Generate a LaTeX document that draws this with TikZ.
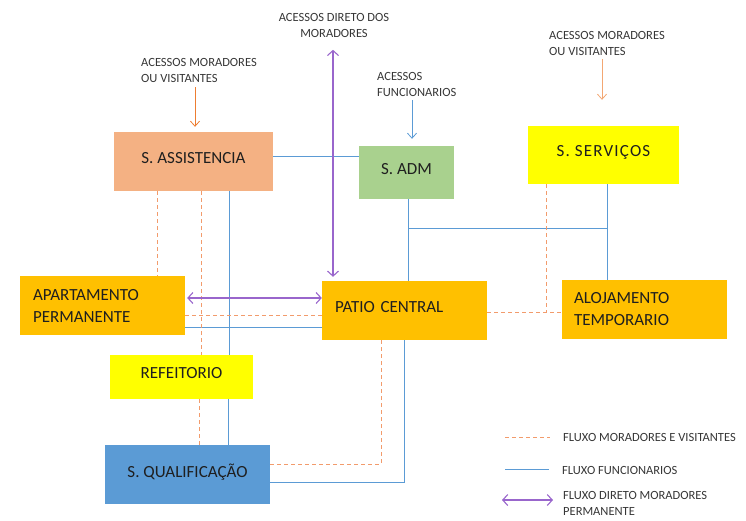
\documentclass[tikz,border=0pt]{standalone}
\usepackage{fontspec}
\setmainfont{Carlito}
\newfontfamily\widefont[LetterSpace=7]{Carlito}
\usetikzlibrary{arrows.meta}

\definecolor{salmonfill}{HTML}{F4B183}
\definecolor{greenfill}{HTML}{A9D18E}
\definecolor{yellowfill}{HTML}{FFFF00}
\definecolor{goldfill}{HTML}{FFC000}
\definecolor{bluefill}{HTML}{5B9BD5}
\definecolor{blueline}{HTML}{5B9BD5}
\definecolor{orangeline}{HTML}{F29B6C}
\definecolor{orangearrow}{HTML}{ED7D31}
\definecolor{purpleline}{HTML}{9966CC}
\definecolor{boxtext}{HTML}{1F1F1F}
\definecolor{lbltext}{HTML}{363636}

\tikzset{
  box/.style={inner sep=0pt, minimum height=59pt, text=boxtext,
    font=\fontsize{17}{22}\selectfont},
  onebox/.style={box, text depth=8pt},
  leftbox/.style={box, text width=139pt, inner xsep=13pt, align=left},
  lbl/.style={inner sep=0pt, text=lbltext, font=\fontsize{12.5}{16}\selectfont, align=left},
  visit/.style={draw=orangeline, line width=0.8pt, dash pattern=on 4pt off 3pt},
  staff/.style={draw=blueline, line width=0.8pt},
  direct/.style={draw=purpleline, line width=1.1pt,
    {Straight Barb[length=5pt,width=11pt]}-{Straight Barb[length=5pt,width=11pt]}},
  access/.style={line width=0.8pt, -{Straight Barb[length=5pt,width=9pt]}},
}

\begin{document}
\begin{tikzpicture}[x=1pt, y=-1pt]
    \useasboundingbox (0,0) rectangle (746,520);

    % sectors
    \node [onebox, fill=salmonfill, minimum width=159pt] (assist) at (193.5,161.5) {S. ASSISTENCIA};
    \node [onebox, fill=greenfill, minimum width=95pt, minimum height=53pt] (adm) at (406.5,172.5) {S. ADM};
    \node [onebox, fill=yellowfill, minimum width=151pt, minimum height=58pt] (serv) at (603.5,155) {\widefont S. SERVIÇOS};
    \node [leftbox, fill=goldfill] (apart) at (102.5,305.5) {APARTAMENTO\\PERMANENTE};
    \node [leftbox, fill=goldfill, text depth=8pt] (patio) at (404.5,310.5) {PATIO CENTRAL};
    \node [leftbox, fill=goldfill, inner xsep=12pt, text width=141pt] (aloj) at (644.5,309.5) {ALOJAMENTO\\TEMPORARIO};
    \node [onebox, fill=yellowfill, minimum width=143pt, minimum height=44pt] (refeit) at (181.5,377) {REFEITORIO};
    \node [onebox, fill=bluefill, minimum width=165pt] (qualif) at (187.5,474.5) {S. QUALIFICAÇÃO};

    % accesses
    \node [lbl, anchor=west] (accvisA) at (141,70) {ACESSOS MORADORES\\OU VISITANTES};
    \node [lbl, anchor=west] (accvisB) at (549,43) {ACESSOS MORADORES\\OU VISITANTES};
    \node [lbl, anchor=west] (accfunc) at (377,84) {ACESSOS\\FUNCIONARIOS};
    \node [lbl, align=center] (accdir) at (334,25.5) {ACESSOS DIRETO DOS\\MORADORES};
    \draw [access, draw=orangearrow, shorten <=5pt, shorten >=5pt] (accvisA.south -| 195,0) -- (assist.north -| 195,0);
    \draw [access, draw=salmonfill!80!orangearrow, shorten <=4pt, shorten >=26pt] (accvisB.south -| 602,0) -- (serv.north -| 602,0);
    \draw [access, draw=blueline, shorten <=4pt, shorten >=7pt] (accfunc.south -| 412,0) -- (adm.north -| 412,0);

    % fluxo funcionarios
    \coordinate (admjoin) at (408,228);
    \coordinate (servjoin) at (607,228);
    \draw [staff] (assist.east |- 0,156) -- (adm.west |- 0,156);
    \draw [staff] (adm.south -| admjoin) -- (patio.north -| admjoin);
    \draw [staff] (serv.south -| servjoin) -- (aloj.north -| servjoin);
    \draw [staff] (admjoin) -- (servjoin);
    \draw [staff] (assist.south -| 229,0) -- (refeit.north -| 229,0);
    \draw [staff] (refeit.south -| 228,0) -- (qualif.north -| 228,0);
    \draw [staff] (apart.east |- 0,327) -- (patio.west |- 0,327);
    \draw [staff] (patio.south -| 404,0) |- (qualif.east |- 0,482);

    % fluxo moradores e visitantes
    \coordinate (servdrop) at (546,312);
    \draw [visit] (assist.south -| 157,0) -- (apart.north -| 157,0);
    \draw [visit] (assist.south -| 201,0) -- (refeit.north -| 201,0);
    \draw [visit] (refeit.south -| 199,0) -- (qualif.north -| 199,0);
    \draw [visit] (apart.east |- 0,315) -- (patio.west |- 0,315);
    \draw [visit] (patio.east |- servdrop) -- (aloj.west |- servdrop);
    \draw [visit] (serv.south -| servdrop) -- (servdrop);
    \draw [visit] (patio.south -| 381,0) |- (qualif.east |- 0,464);

    % fluxo direto
    \draw [direct, shorten <=12pt, shorten >=4pt] (accdir.south -| 333,0) -- (patio.north -| 333,0);
    \draw [direct, shorten <=2pt] (apart.east |- 0,298) -- (patio.west |- 0,298);

    % legenda
    \coordinate (legvA) at (505,437);
    \coordinate (legvB) at (550,437);
    \coordinate (legsA) at (505,469);
    \coordinate (legsB) at (549,469);
    \coordinate (legdA) at (502,500);
    \coordinate (legdB) at (553,500);
    \draw [visit] (legvA) -- (legvB);
    \draw [staff] (legsA) -- (legsB);
    \draw [direct] (legdA) -- (legdB);
    \node [lbl, anchor=west] (legv) at (563,437) {FLUXO MORADORES E VISITANTES};
    \node [lbl, anchor=west] (legs) at (562,470) {FLUXO FUNCIONARIOS};
    \node [lbl, anchor=west] (legd) at (563,503) {FLUXO DIRETO MORADORES\\PERMANENTE};
\end{tikzpicture}
\end{document}
